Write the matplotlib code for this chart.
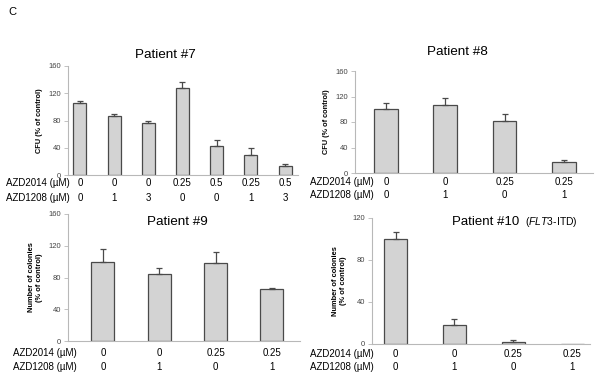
import matplotlib
matplotlib.use("Agg")
import matplotlib.pyplot as plt
from matplotlib.transforms import blended_transform_factory

plt.rcParams['font.family'] = ['Liberation Sans', 'DejaVu Sans']
plt.rcParams['mathtext.fontset'] = 'custom'
plt.rcParams['mathtext.it'] = 'Liberation Sans:italic'
plt.rcParams['mathtext.rm'] = 'Liberation Sans'

# ---- data ----
p7_azd2014 = ["0", "0", "0", "0.25", "0.5", "0.25", "0.5"]
p7_azd1208 = ["0", "1", "3", "0", "0", "1", "3"]
p7_values = [106, 87, 77, 128, 43, 29, 13]
p7_errors = [2, 3, 3, 8, 8, 11, 3]

p8_azd2014 = ["0", "0", "0.25", "0.25"]
p8_azd1208 = ["0", "1", "0", "1"]
p8_values = [100, 106, 82, 18]
p8_errors = [10, 12, 11, 3]

p9_azd2014 = ["0", "0", "0.25", "0.25"]
p9_azd1208 = ["0", "1", "0", "1"]
p9_values = [100, 85, 98, 65]
p9_errors = [16, 7, 14, 2]

p10_azd2014 = ["0", "0", "0.25", "0.25"]
p10_azd1208 = ["0", "1", "0", "1"]
p10_values = [100, 18, 2, 0]
p10_errors = [7, 6, 2, 0]

W, H = 600, 385
fig = plt.figure(figsize=(6, 3.85), dpi=100)

AXC = '#b8b8b8'
BARC = '#d3d3d3'
EDGE = '#4a4a4a'
FS_ROW = 7.0


def px_axes(left, right, top, bottom):
    return fig.add_axes([left / W, 1 - bottom / H, (right - left) / W, (bottom - top) / H])


def panel(box, values, errors, row1, row2, ymax, yticks, xlim, width, ylabel,
          row_y, label_x, ylfs):
    ax = px_axes(*box)
    x = list(range(len(values)))
    ax.bar(x, values, width=width, color=BARC, edgecolor=EDGE, linewidth=0.9, zorder=2)
    for xi, v, e in zip(x, values, errors):
        if e > 0:
            ax.errorbar(xi, v, yerr=[[0], [e]], fmt='none', ecolor=EDGE, elinewidth=0.9,
                        capsize=2.5, capthick=0.9, zorder=3)
    ax.set_xlim(*xlim)
    ax.set_ylim(0, ymax)
    ax.set_yticks(yticks)
    ax.tick_params(axis='y', labelsize=5.5, colors='#444444', length=3, width=0.6,
                   color=AXC, pad=2)
    ax.set_xticks([])
    for s in ['top', 'right']:
        ax.spines[s].set_visible(False)
    for s in ['left', 'bottom']:
        ax.spines[s].set_color(AXC)
        ax.spines[s].set_linewidth(0.8)
    ax.set_ylabel(ylabel, fontsize=ylfs, fontweight='bold', labelpad=4, linespacing=1.1)
    tr = blended_transform_factory(ax.transData, fig.transFigure)
    for xi, a, b in zip(x, row1, row2):
        fig.text(xi, 1 - row_y[0] / H, a, transform=tr, ha='center', va='center', fontsize=FS_ROW)
        fig.text(xi, 1 - row_y[1] / H, b, transform=tr, ha='center', va='center', fontsize=FS_ROW)
    fig.text(label_x / W, 1 - row_y[0] / H, "AZD2014 (\u00b5M)", ha='left', va='center', fontsize=FS_ROW)
    fig.text(label_x / W, 1 - row_y[1] / H, "AZD1208 (\u00b5M)", ha='left', va='center', fontsize=FS_ROW)
    return ax


ax7 = panel((68, 298, 66, 175), p7_values, p7_errors, p7_azd2014, p7_azd1208,
            160, [0, 40, 80, 120, 160], (-0.35, 6.38), 0.38, "CFU (% of control)",
            (183, 198), 6, 5.3)
ax8 = panel((355, 593, 71, 173), p8_values, p8_errors, p8_azd2014, p8_azd1208,
            160, [0, 40, 80, 120, 160], (-0.52, 3.49), 0.4, "CFU (% of control)",
            (182, 195), 310, 5.3)
ax9 = panel((68, 300, 214, 341), p9_values, p9_errors, p9_azd2014, p9_azd1208,
            160, [0, 40, 80, 120, 160], (-0.62, 3.5), 0.41,
            "Number of colonies\n(% of control)", (353, 367), 13, 5.4)
ax10 = panel((372, 590, 218, 344), p10_values, p10_errors, p10_azd2014, p10_azd1208,
             120, [0, 40, 80, 120], (-0.4, 3.3), 0.38,
             "Number of colonies\n(% of control)", (354, 367), 310, 5.4)

fig.text(165 / W, 1 - 55 / H, "Patient #7", ha='center', va='center', fontsize=9.7)
fig.text(457 / W, 1 - 52 / H, "Patient #8", ha='center', va='center', fontsize=9.7)
fig.text(177 / W, 1 - 222 / H, "Patient #9", ha='center', va='center', fontsize=9.7)
fig.text(452 / W, 1 - 222 / H, "Patient #10", ha='left', va='center', fontsize=9.5)
fig.text(525 / W, 1 - 222 / H, r"($\mathit{FLT3}$-ITD)", ha='left', va='center', fontsize=7.5)
fig.text(8 / W, 1 - 12 / H, "C", ha='left', va='center', fontsize=8)

fig.savefig("out.png", dpi=100)
